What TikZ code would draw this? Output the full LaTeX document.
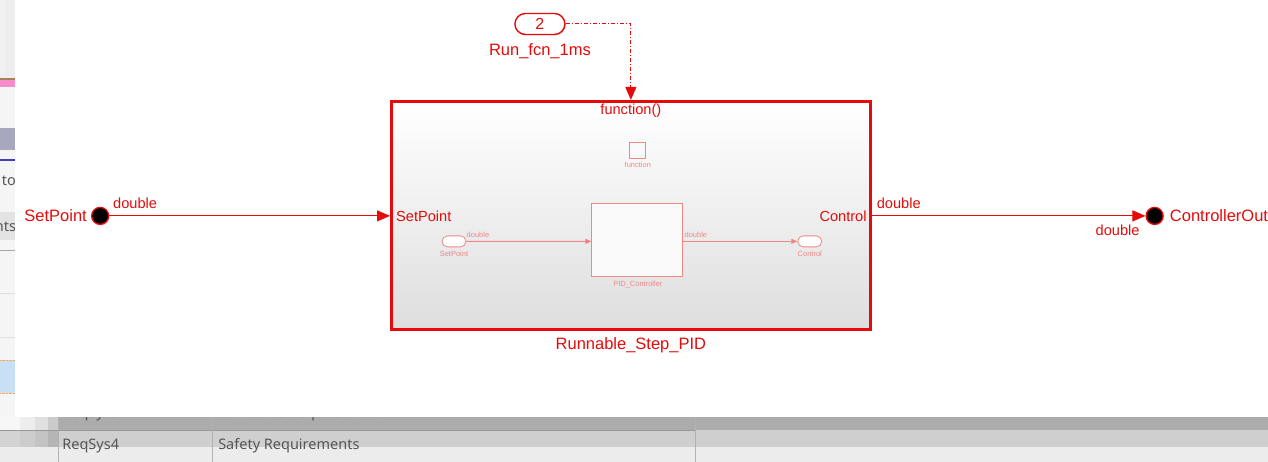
\documentclass[tikz,border=0pt]{standalone}
\usepackage{fontspec}
\setmainfont{Liberation Sans}
\newfontfamily\uifont{Noto Sans}
\usepackage{xcolor}
\usepackage{tikz}
\usetikzlibrary{positioning,arrows.meta,shapes.misc,shadows}

\definecolor{slred}{RGB}{230,10,10}
\definecolor{slpale}{RGB}{240,135,135}
\definecolor{uigrey}{RGB}{85,85,85}
\definecolor{uiblue}{RGB}{200,224,245}

\begin{document}
\begin{tikzpicture}[x=1pt, y=-1pt,
  lbl/.style={text=slred, font=\fontsize{16.5}{18}\selectfont, inner sep=0pt},
  plbl/.style={text=slred, font=\fontsize{14.6}{16}\selectfont, inner sep=0pt},
  tiny/.style={text=slpale, font=\fontsize{7.5}{8}\selectfont, inner sep=0pt},
  uitext/.style={text=uigrey, font=\uifont\fontsize{14.5}{16}\selectfont, inner sep=0pt},
  sig/.style={slred, line width=1pt, -{Triangle[length=13pt,width=11pt]}},
  trig/.style={sig, dash pattern=on 4pt off 2pt on 1pt off 2pt},
  psig/.style={slpale, line width=0.8pt, -{Triangle[length=6pt,width=5pt]}},
  bport/.style={circle, draw=slred, fill=black, line width=1.3pt, minimum size=17pt, inner sep=0pt,
                drop shadow={opacity=0.35, shadow xshift=1pt, shadow yshift=-1pt}},
  pill/.style={rounded rectangle, draw=slred, fill=white, line width=1.4pt,
               minimum width=50pt, minimum height=21pt, inner sep=0pt,
               drop shadow={opacity=0.25, shadow xshift=1pt, shadow yshift=-1pt}},
  ppill/.style={rounded rectangle, draw=slpale, fill=white, line width=0.8pt,
                minimum width=24pt, minimum height=11pt, inner sep=0pt},
  pblk/.style={rectangle, draw=slpale, fill=white!95!gray, line width=0.8pt, inner sep=0pt},
  subsys/.style={rectangle, draw=slred, line width=3pt, inner sep=0pt,
                 top color=white, middle color=gray!5, bottom color=gray!26,
                 drop shadow={opacity=0.25, shadow xshift=2pt, shadow yshift=-2pt}},
]
% window behind the canvas
\fill[gray!8] (0,0) rectangle (1268,462);
\fill[white!88!gray] (0,0) rectangle (5,78);
\fill[gray!14] (5,0) rectangle (15,78);
\fill[brown!60!gray] (0,78) rectangle (15,80);
\fill[magenta!45!white] (0,80) rectangle (15,87);
\fill[blue!15!gray!60] (0,128) rectangle (15,150);
\fill[blue!50!gray] (0,159) rectangle (15,161);
\fill[gray!22] (0,212) rectangle (15,240);
\draw[gray!70] (0,250) -- (15,250);
\draw[gray!25] (0,293) -- (15,293);
\draw[gray!25] (0,337) -- (15,337);
\fill[uiblue] (0,360) rectangle (15,393);
\draw[orange!70, densely dotted] (0,360) -- (15,360) (0,393) -- (15,393);
\begin{scope}
  \clip (0,150) rectangle (15,250);
  \node[uitext, anchor=east] (uiA) at (16,181) {to};
  \node[uitext, anchor=east] (uiB) at (16,227) {nts};
\end{scope}

% table rows below
\fill[gray!65] (58,417) rectangle (1268,430);
\fill[gray!38] (58,430) rectangle (1268,447);
\foreach \x/\c in {0/6,20/14,35/24,48/40}{
  \fill[gray!\c] (\x,417) rectangle (58,430);
  \fill[gray!\c!white!70!gray] (\x,430) rectangle (58,447);
}
\fill[gray!15] (0,447) rectangle (1268,462);
\draw[gray!80] (0,430) -- (695,430);
\foreach \x in {58,212,695}{ \draw[gray!60] (\x,417) -- (\x,462); }
\begin{scope}
  \clip (58,417) rectangle (1268,430);
  \node[uitext, anchor=west] (r3id) at (62,414) {ReqSys3};
  \node[uitext, anchor=west] (r3nm) at (218,414) {Hardware Requirements};
\end{scope}
\node[uitext, anchor=west] (r4id) at (62,446) {ReqSys4};
\node[uitext, anchor=west] (r4nm) at (218,446) {Safety Requirements};

% model canvas
\fill[white] (15,0) rectangle (1268,417);

% subsystem
\node[subsys, minimum width=479pt, minimum height=228pt] (rsp) at (631,215.5) {};
\node[lbl] (rspname) at (631,345) {Runnable\_Step\_PID};
\node[plbl] (fcall) at (631,111) {function()};
\node[plbl, anchor=west] (inlbl) at (396,216) {SetPoint};
\node[plbl, anchor=east] (outlbl) at (867,216) {Control};

% contents preview
\node[pblk, minimum size=16pt] (trg) at (637.5,150) {};
\node[tiny] (trglbl) at (638,165) {function};
\node[ppill] (inSP) at (454,241.5) {};
\node[tiny] (inSPlbl) at (454,254) {SetPoint};
\node[pblk, minimum width=91pt, minimum height=73pt] (pid) at (637.5,240.5) {};
\node[tiny] (pidlbl) at (638,284.5) {PID\_Controller};
\node[ppill] (outCtl) at (810,241.5) {};
\node[tiny] (outCtllbl) at (810,254) {Control};
\draw[psig] (inSP) -- (inSP -| pid.west);
\draw[psig] (pid.east |- outCtl) -- (outCtl);
\node[tiny] (dt1) at (478,235) {double};
\node[tiny] (dt2) at (696,235) {double};

% function-call inport
\node[pill] (fcn) at (540,24) {\textcolor{slred}{\fontsize{16}{18}\selectfont 2}};
\node[lbl, below=8pt of fcn] (fcnlbl) {Run\_fcn\_1ms};
\draw[trig] (fcn.east) -| (rsp.north);

% root-level ports
\node[bport] (sp) at (100,216) {};
\node[lbl, left=4pt of sp] (splbl) {SetPoint};
\node[bport] (co) at (1155,216) {};
\node[lbl, right=6pt of co] (colbl) {ControllerOut};
\draw[sig] (sp) -- (sp -| rsp.west);
\draw[sig] (rsp.east |- co) -- (co);
\node[plbl] (dtin) at (135,203) {double};
\node[plbl] (dtout) at (899,203) {double};
\node[plbl] (dtco) at (1118,230) {double};
\end{tikzpicture}
\end{document}
